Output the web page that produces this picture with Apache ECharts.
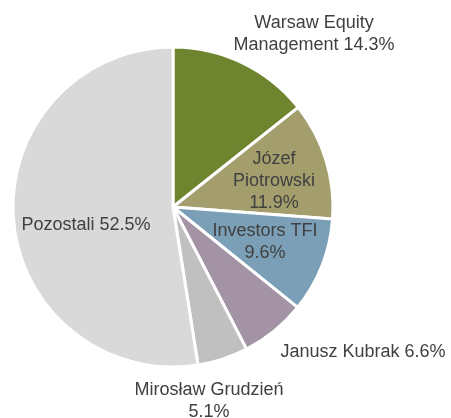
<!DOCTYPE html>
<html>
<head>
<meta charset="utf-8">
<script src="https://cdn.jsdelivr.net/npm/echarts@6/dist/echarts.min.js"></script>
<style>
  html, body { margin: 0; padding: 0; background: #fff; }
  #main { width: 451px; height: 418px; }
</style>
</head>
<body>
<div id="main"></div>
<script>
// dane akcjonariuszy
var names = ['Warsaw Equity\nManagement 14.3%', 'Józef\nPiotrowski\n11.9%', 'Investors TFI\n9.6%',
             'Janusz Kubrak 6.6%', 'Mirosław Grudzień\n5.1%', 'Pozostali 52.5%'];
var shares = [14.3, 11.9, 9.6, 6.6, 5.1, 52.5];
var colors = ['#6f842e', '#a39e6c', '#7a9fb6', '#a493a4', '#c0c0c0', '#d9d9d9'];

// polozenie etykiet wzgledem srodka kola
var cx = 173, cy = 207;
var labelOffset = [[141, -173], [101, -26], [92, 35], [190, 145], [36, 194], [-87, 18]];

var chart = echarts.init(document.getElementById('main'));
var seriesData = [];
for (var i = 0; i < shares.length; i++) {
  seriesData.push({
    value: shares[i],
    name: names[i],
    itemStyle: { color: colors[i] }
  });
}

chart.setOption({
  animation: false,
  series: [{
    type: 'pie',
    center: [cx, cy],
    radius: 160,
    startAngle: 90,
    clockwise: true,
    data: seriesData,
    itemStyle: { borderColor: '#fff', borderWidth: 3 },
    label: {
      show: true,
      position: 'inside',
      formatter: '{b}',
      color: '#404040',
      fontFamily: 'Liberation Sans, Arial, sans-serif',
      fontSize: 18,
      lineHeight: 22,
      align: 'center'
    },
    labelLine: { show: false },
    labelLayout: function (params) {
      var o = labelOffset[params.dataIndex];
      return { x: cx + o[0], y: cy + o[1], align: 'center', verticalAlign: 'middle' };
    },
    emphasis: { disabled: true }
  }]
});
</script>
</body>
</html>
